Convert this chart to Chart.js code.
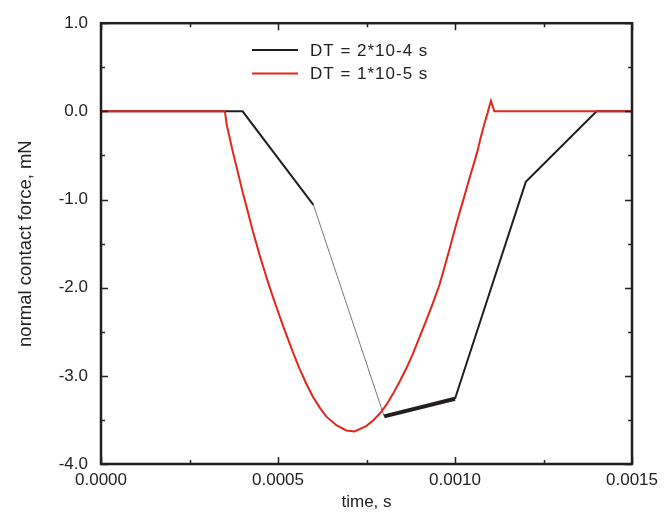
<!DOCTYPE html>
<html>
<head>
<meta charset="utf-8">
<script src="https://cdn.jsdelivr.net/npm/chart.js@4.4.1/dist/chart.umd.min.js"></script>
<style>
html,body{margin:0;padding:0;background:#fff;}
canvas{display:block;}
</style>
</head>
<body>
<canvas id="c" width="664" height="514"></canvas>
<script>
// ---- data ----
const seriesLabels = ["DT = 2*10-4 s", "DT = 1*10-5 s"];

const blackTime  = [0, 0.0004, 0.0006, 0.0008, 0.0010, 0.0012, 0.0014, 0.0015];
const blackForce = [0, 0, -1.06, -3.46, -3.26, -0.80, 0, 0];

const redTime = [0, 0.00035, 0.000355, 0.000364, 0.000373, 0.000383, 0.000392, 0.000401,
  0.000411, 0.00042, 0.000429, 0.000439, 0.000448, 0.000458, 0.000472, 0.000486, 0.0005,
  0.000514, 0.000528, 0.000542, 0.000561, 0.00058, 0.000599, 0.000618, 0.000636, 0.000665,
  0.000693, 0.000716, 0.000749, 0.000768, 0.000787, 0.000806, 0.000824, 0.000843, 0.000862,
  0.000881, 0.000899, 0.000918, 0.000937, 0.000956, 0.00097, 0.000984, 0.000998, 0.001012,
  0.001026, 0.00104, 0.001055, 0.001064, 0.001073, 0.001083, 0.001092, 0.0011015, 0.001111, 0.0015];
const redForce = [0, 0, -0.15, -0.31, -0.47, -0.63, -0.78, -0.93,
  -1.08, -1.22, -1.36, -1.50, -1.63, -1.76, -1.94, -2.11, -2.27,
  -2.43, -2.58, -2.73, -2.92, -3.09, -3.24, -3.36, -3.46, -3.56,
  -3.62, -3.63, -3.57, -3.51, -3.43, -3.33, -3.21, -3.07, -2.92,
  -2.75, -2.57, -2.38, -2.18, -1.97, -1.77, -1.57, -1.36, -1.16,
  -0.97, -0.77, -0.57, -0.44, -0.29, -0.14, -0.02, 0.12, 0.00, 0];

const xMin = 0, xMax = 0.0015, xMajorStep = 0.0005, xMinorStep = 0.00025;
const yMin = -4, yMax = 1, yMajorStep = 1, yMinorStep = 0.5;

const xTitle = "time, s";
const yTitle = "normal contact force, mN";

// ---- styling ----
const INK = "#231f20";
const RED = "#e3261c";
const FONT = "'Liberation Sans', Arial, Helvetica, sans-serif";

const toPts = (xs, ys) => xs.map((x, i) => ({x: x, y: ys[i]}));

const framePlugin = {
  id: "frameTicks",
  afterDatasetsDraw(chart) {
    const {ctx, chartArea: a, scales} = chart;
    const xs = scales.x, ys = scales.y;
    ctx.save();
    ctx.strokeStyle = INK;
    ctx.lineWidth = 1.5;
    const nx = Math.round((xMax - xMin) / xMinorStep);
    for (let i = 0; i <= nx; i++) {
      const v = xMin + i * xMinorStep;
      const px = Math.round(xs.getPixelForValue(v)) + 0.5;
      const len = (i % 2 === 0) ? 7 : 4;
      ctx.beginPath();
      ctx.moveTo(px, a.bottom); ctx.lineTo(px, a.bottom - len);
      ctx.moveTo(px, a.top); ctx.lineTo(px, a.top + len);
      ctx.stroke();
    }
    const ny = Math.round((yMax - yMin) / yMinorStep);
    for (let i = 0; i <= ny; i++) {
      const v = yMin + i * yMinorStep;
      const py = Math.round(ys.getPixelForValue(v)) + 0.5;
      const len = (i % 2 === 0) ? 7 : 4;
      ctx.beginPath();
      ctx.moveTo(a.left, py); ctx.lineTo(a.left + len, py);
      ctx.moveTo(a.right, py); ctx.lineTo(a.right - len, py);
      ctx.stroke();
    }
    ctx.lineWidth = 2.5;
    ctx.strokeRect(a.left, a.top, a.right - a.left, a.bottom - a.top);

    const items = [
      {label: chart.data.datasets[0].label, color: INK},
      {label: chart.data.datasets[1].label, color: RED}
    ];
    ctx.font = "17px " + FONT;
    ctx.textBaseline = "middle";
    ctx.textAlign = "left";
    try { ctx.letterSpacing = "1px"; } catch (e) {}
    items.forEach((it, k) => {
      const y = 50 + k * 23.5;
      ctx.strokeStyle = it.color;
      ctx.lineWidth = 2;
      ctx.beginPath(); ctx.moveTo(252, y); ctx.lineTo(298, y); ctx.stroke();
      ctx.fillStyle = "#222";
      ctx.fillText(it.label, 310, y + 1);
    });
    ctx.restore();
  }
};

new Chart(document.getElementById("c"), {
  type: "scatter",
  data: {
    datasets: [
      {
        label: seriesLabels[0],
        data: toPts(blackTime, blackForce),
        showLine: true,
        borderColor: INK,
        borderWidth: 2,
        pointRadius: 0,
        order: 2,
        segment: {
          borderWidth: ctx => ctx.p0DataIndex === 2 ? 0.8 : (ctx.p0DataIndex === 3 ? 4 : 2),
          borderColor: ctx => ctx.p0DataIndex === 2 ? "#555" : INK
        }
      },
      {
        label: seriesLabels[1],
        data: toPts(redTime, redForce),
        showLine: true,
        borderColor: RED,
        borderWidth: 2,
        pointRadius: 0,
        order: 1
      }
    ]
  },
  options: {
    responsive: false,
    animation: false,
    devicePixelRatio: 1,
    layout: {padding: {top: 19, right: 31, left: 0, bottom: 0}},
    plugins: {legend: {display: false}, tooltip: {enabled: false}},
    scales: {
      x: {
        type: "linear",
        min: xMin, max: xMax,
        grid: {display: false, drawTicks: false},
        border: {display: false},
        ticks: {
          stepSize: xMajorStep,
          padding: 6,
          color: "#222",
          font: {family: FONT, size: 17},
          maxRotation: 0,
          callback: v => Number(v).toFixed(4)
        },
        title: {display: true, text: xTitle, color: "#222", font: {family: FONT, size: 17}, padding: 1},
        afterFit: s => { s.height = 50; }
      },
      y: {
        type: "linear",
        min: yMin, max: yMax,
        grid: {display: false, drawTicks: false},
        border: {display: false},
        ticks: {
          stepSize: yMajorStep,
          padding: 13,
          color: "#222",
          font: {family: FONT, size: 17},
          callback: v => Number(v).toFixed(1)
        },
        title: {display: true, text: yTitle, color: "#222", font: {family: FONT, size: 18.5}, padding: 15},
        afterFit: s => { s.width = 101; }
      }
    }
  },
  plugins: [framePlugin]
});
</script>
</body>
</html>
